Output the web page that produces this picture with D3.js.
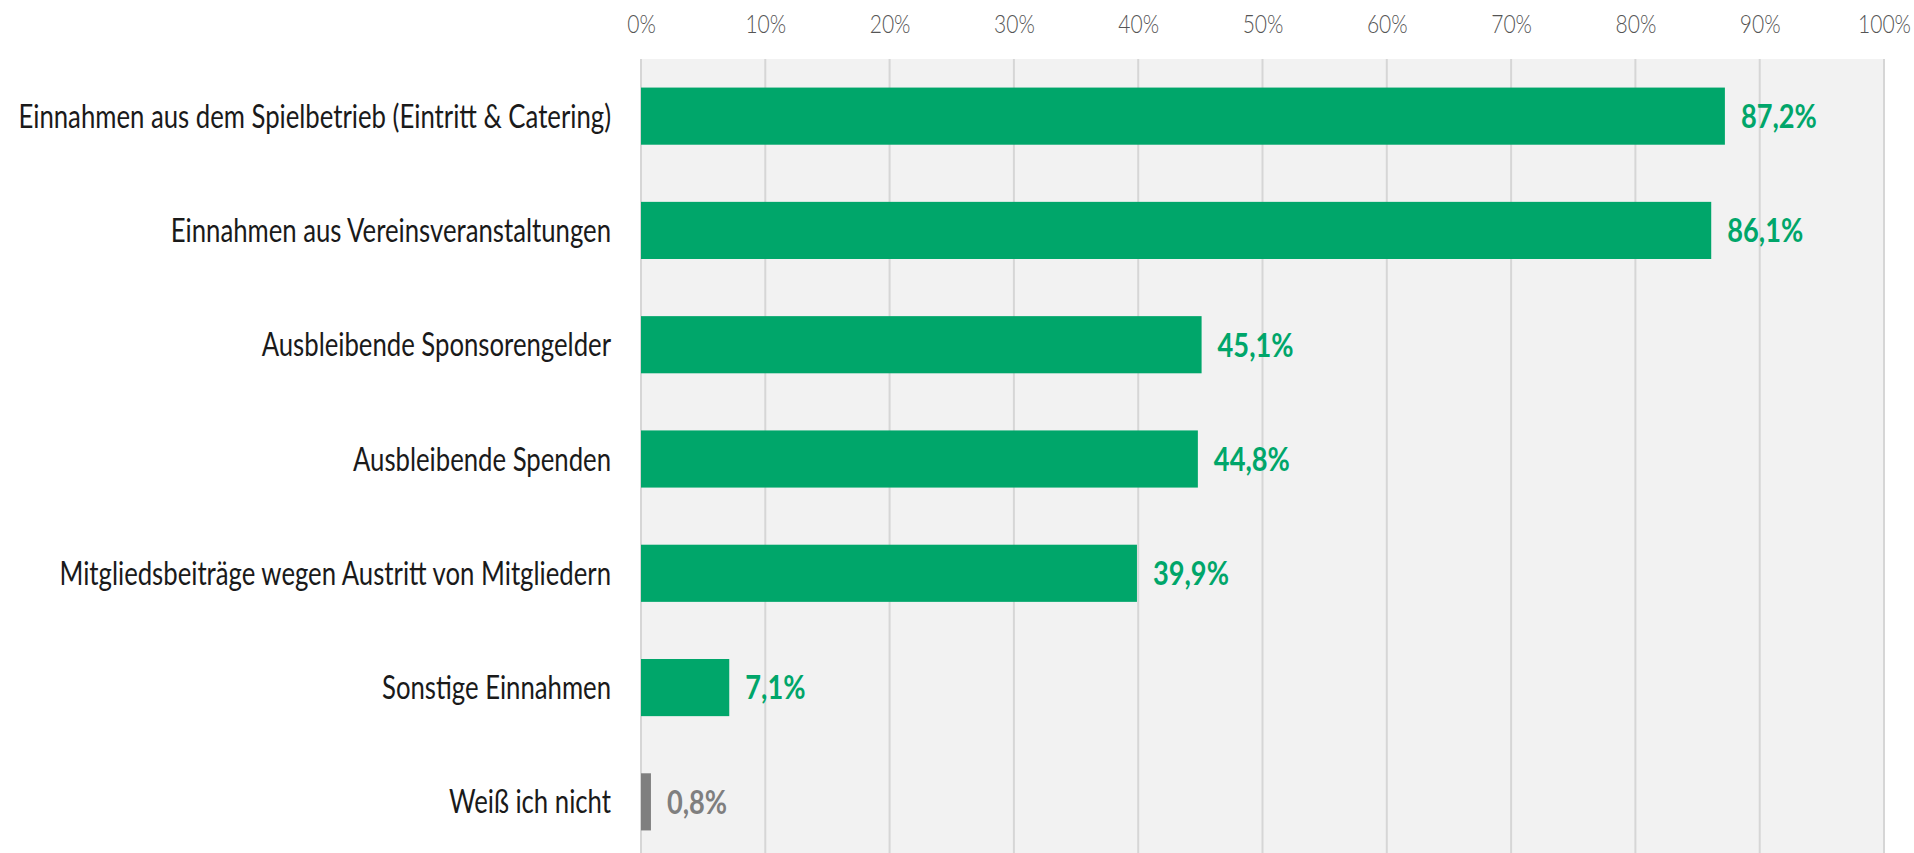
<!DOCTYPE html>
<html>
<head>
<meta charset="utf-8">
<script src="https://cdn.jsdelivr.net/npm/d3@7"></script>
<style>
  html, body { margin: 0; padding: 0; background: #fff; overflow: hidden; }
  svg { display: block; }
  text { font-family: Lato, "Noto Sans", sans-serif; }
</style>
</head>
<body>
<div id="chart"></div>
<script>
  const WIDTH = 1914;
  const HEIGHT = 853;
  const GREEN = '#00a66a';
  const GREY = '#7f7f7f';

  const categories = [
    'Einnahmen aus dem Spielbetrieb (Eintritt & Catering)',
    'Einnahmen aus Vereinsveranstaltungen',
    'Ausbleibende Sponsorengelder',
    'Ausbleibende Spenden',
    'Mitgliedsbeiträge wegen Austritt von Mitgliedern',
    'Sonstige Einnahmen',
    'Weiß ich nicht'
  ];
  const values = [87.2, 86.1, 45.1, 44.8, 39.9, 7.1, 0.8];
  const valueLabels = ['87,2%', '86,1%', '45,1%', '44,8%', '39,9%', '7,1%', '0,8%'];
  const tickValues = [0, 10, 20, 30, 40, 50, 60, 70, 80, 90, 100];

  const data = categories.map(function (c, i) {
    return { cat: c, value: values[i], label: valueLabels[i], other: i === categories.length - 1 };
  });

  const x = d3.scaleLinear().domain([0, 100]).range([641, 1884]);
  const y = d3.scaleBand()
    .domain(categories)
    .range([59, 859])
    .paddingInner(0.5)
    .paddingOuter(0.25);

  const svg = d3.select('#chart').append('svg')
    .attr('width', WIDTH)
    .attr('height', HEIGHT);

  // squeeze text horizontally so the fallback font looks condensed
  function condense(sel, sx) {
    sel.attr('transform', function () {
      const px = +this.getAttribute('data-x');
      const py = +this.getAttribute('data-y');
      return 'translate(' + px + ',' + py + ') scale(' + sx + ',1)';
    });
  }

  // plot background
  svg.append('rect')
    .attr('x', x(0))
    .attr('y', y.range()[0])
    .attr('width', x(100) - x(0))
    .attr('height', y.range()[1] - y.range()[0])
    .attr('fill', '#f2f2f2');

  // gridlines
  svg.append('g')
    .selectAll('line')
    .data(tickValues)
    .enter().append('line')
    .attr('x1', function (d) { return x(d); })
    .attr('x2', function (d) { return x(d); })
    .attr('y1', y.range()[0])
    .attr('y2', y.range()[1])
    .attr('stroke', '#d6d6d6')
    .attr('stroke-width', 2);

  // top axis labels
  const xAxis = d3.axisTop(x)
    .tickValues(tickValues)
    .tickFormat(function (d) { return d + '%'; })
    .tickSize(0)
    .tickPadding(0);

  const axisG = svg.append('g')
    .attr('transform', 'translate(0,33)')
    .call(xAxis);
  axisG.select('.domain').remove();
  const tickText = axisG.selectAll('text')
    .attr('font-family', null)
    .attr('font-size', 26)
    .attr('font-weight', 300)
    .attr('fill', '#555555')
    .attr('dy', 0)
    .attr('data-x', 0)
    .attr('data-y', 0);
  const w100 = tickText.filter(function (d) { return d === 100; }).node().getComputedTextLength();
  condense(tickText, 53 / w100);

  // bars
  svg.selectAll('.bar')
    .data(data)
    .enter().append('rect')
    .attr('class', 'bar')
    .attr('x', x(0))
    .attr('y', function (d) { return y(d.cat); })
    .attr('width', function (d) { return x(d.value) - x(0); })
    .attr('height', y.bandwidth())
    .attr('fill', function (d) { return d.other ? GREY : GREEN; });

  // value labels
  const valText = svg.selectAll('.value')
    .data(data)
    .enter().append('text')
    .attr('class', 'value')
    .attr('data-x', function (d) { return x(d.value) + 16; })
    .attr('data-y', function (d) { return y(d.cat) + y.bandwidth() / 2; })
    .attr('dy', '0.37em')
    .attr('font-size', 32)
    .attr('font-weight', 'bold')
    .attr('fill', function (d) { return d.other ? GREY : GREEN; })
    .text(function (d) { return d.label; });
  condense(valText, 76 / valText.node().getComputedTextLength());

  // category labels
  const catText = svg.selectAll('.cat')
    .data(data)
    .enter().append('text')
    .attr('class', 'cat')
    .attr('data-x', 611)
    .attr('data-y', function (d) { return y(d.cat) + y.bandwidth() / 2; })
    .attr('dy', '0.36em')
    .attr('text-anchor', 'end')
    .attr('font-size', 32)
    .attr('fill', '#1a1a1a')
    .text(function (d) { return d.cat; });
  condense(catText, 593 / catText.node().getComputedTextLength());
</script>
</body>
</html>
